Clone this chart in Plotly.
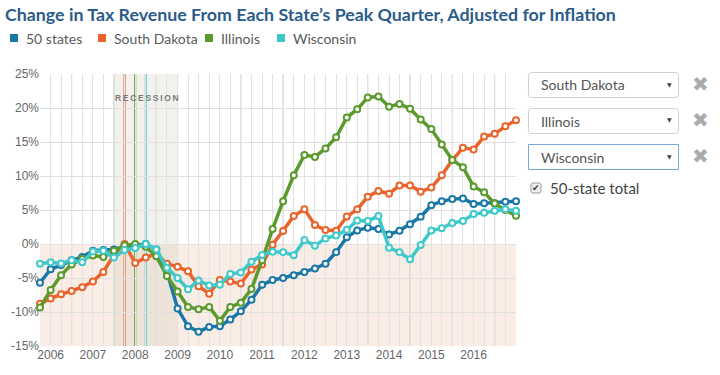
import plotly.graph_objects as go
import pandas as pd

# ---------------- data ----------------
quarters = pd.date_range("2005-10-01", periods=46, freq="QS").strftime("%Y-%m-%d").tolist()

us_50_states = [-5.7, -3.7, -3.1, -2.4, -1.9, -1.0, -0.9, -0.8, -0.4, -0.2,
                0.0, -0.8, -4.1, -9.5, -12.1, -12.9, -12.2, -12.1, -11.1, -9.9,
                -8.2, -6.0, -5.3, -5.0, -4.6, -4.1, -3.6, -2.9, -1.2, 1.0,
                2.0, 2.4, 2.2, 1.4, 1.95, 2.9, 4.0, 5.7, 6.3, 6.6,
                6.7, 5.9, 6.0, 6.0, 6.2, 6.3]
south_dakota = [-8.8, -8.0, -7.4, -6.9, -6.35, -5.5, -4.1, -1.6, 0.0, -2.8,
                -2.0, -1.4, -2.9, -3.35, -4.0, -6.2, -7.3, -5.3, -5.5, -5.8,
                -3.75, -3.0, -0.1, 1.9, 4.1, 5.1, 2.8, 2.05, 1.95, 4.05,
                5.1, 6.96, 7.8, 7.4, 8.6, 8.6, 7.7, 8.3, 10.1, 12.35,
                14.15, 13.9, 15.8, 16.2, 17.3, 18.2]
illinois = [-9.35, -6.75, -4.6, -3.0, -2.2, -1.7, -1.9, -1.0, -0.2, 0.0,
            -0.4, -1.8, -4.7, -7.0, -9.25, -9.6, -9.25, -11.3, -9.25, -8.65,
            -6.6, -2.4, 2.2, 6.3, 10.1, 13.1, 12.8, 14.05, 15.7, 18.6,
            19.8, 21.55, 21.7, 20.2, 20.6, 19.9, 18.3, 16.9, 14.65, 12.35,
            11.3, 8.45, 7.6, 5.95, 5.0, 4.15]
wisconsin = [-2.9, -2.7, -2.85, -2.4, -2.7, -1.1, -1.0, -2.0, -0.9, -0.6,
             0.0, -0.8, -3.5, -5.0, -6.65, -5.35, -6.1, -6.0, -4.4, -4.2,
             -2.6, -1.6, -1.15, -1.2, -1.65, 0.57, -0.26, 0.82, 1.25, 2.1,
             3.45, 3.4, 4.1, -0.55, -1.2, -2.25, -0.15, 2.0, 2.3, 3.1,
             3.4, 4.4, 4.6, 4.9, 5.1, 4.9]

series_names = ["50 states", "South Dakota", "Illinois", "Wisconsin"]
series_values = [us_50_states, south_dakota, illinois, wisconsin]
colors = ["#1b77a6", "#e8642c", "#5b9a2d", "#3fc9cb"]

peak_quarters = {"South Dakota": "2007-10-01", "Illinois": "2008-01-01", "Wisconsin": "2008-04-01"}
recession = ("2007-07-01", "2009-01-07")
years = list(range(2006, 2017))
y_ticks = [-15, -10, -5, 0, 5, 10, 15, 20, 25]

selected_states = ["South Dakota", "Illinois", "Wisconsin"]
checkbox_label = "50-state total"
title_text = "Change in Tax Revenue From Each State\u2019s Peak Quarter, Adjusted for Inflation"

# ---------------- layout helpers ----------------
W, H = 720, 375
ML, MR, MT, MB = 40, 204, 74, 29
PW, PH = W - ML - MR, H - MT - MB


def px2x(px):
    return (px - ML) / PW


def py2y(py):
    return (H - MB - py) / PH


def rrect_path(x0, y0, x1, y1, r):
    pts = [
        ("M", (x0 + r, y0)), ("L", (x1 - r, y0)), ("Q", (x1, y0), (x1, y0 + r)),
        ("L", (x1, y1 - r)), ("Q", (x1, y1), (x1 - r, y1)),
        ("L", (x0 + r, y1)), ("Q", (x0, y1), (x0, y1 - r)),
        ("L", (x0, y0 + r)), ("Q", (x0, y0), (x0 + r, y0)),
    ]
    out = []
    for item in pts:
        cmd = item[0]
        coords = " ".join(f"{px2x(p[0]):.5f},{py2y(p[1]):.5f}" for p in item[1:])
        out.append(f"{cmd} {coords}")
    return " ".join(out) + " Z"


fig = go.Figure()

# data lines
for name, vals, col in zip(series_names, series_values, colors):
    fig.add_trace(go.Scatter(
        x=quarters, y=vals, mode="lines+markers", name=name, showlegend=False,
        line=dict(color=col, width=3.5),
        marker=dict(symbol="circle", size=6, color="white", line=dict(color=col, width=2)),
        cliponaxis=False))

shapes = []
annotations = []
# negative region shading
shapes.append(dict(type="rect", xref="paper", yref="y", x0=0, x1=1, y0=-15, y1=0,
                   fillcolor="rgba(238,196,170,0.30)", line=dict(width=0), layer="below"))
# recession shading
shapes.append(dict(type="rect", xref="x", yref="paper", x0=recession[0], x1=recession[1], y0=0, y1=1,
                   fillcolor="rgba(205,199,185,0.25)", line=dict(width=0), layer="below"))
# darker mid-year lines
for yr in years:
    shapes.append(dict(type="line", xref="x", yref="paper", x0=f"{yr}-07-01", x1=f"{yr}-07-01",
                       y0=0, y1=1, line=dict(color="#c4c1bd", width=1), layer="between"))
# peak-quarter lines
for name, col in zip(series_names, colors):
    if name in peak_quarters:
        q = peak_quarters[name]
        shapes.append(dict(type="line", xref="x", yref="paper", x0=q, x1=q, y0=0, y1=1,
                           line=dict(color=col, width=2), layer="between"))

# manual legend (square swatches + labels)
legend_sq_x = [10, 98, 205, 277]
for name, col, sx in zip(series_names, colors, legend_sq_x):
    shapes.append(dict(type="rect", xref="paper", yref="paper",
                       x0=px2x(sx), x1=px2x(sx + 8), y0=py2y(42), y1=py2y(34),
                       fillcolor=col, line=dict(width=0), layer="above"))
    annotations.append(dict(xref="paper", yref="paper", x=px2x(sx + 14), y=py2y(38.5),
                            text=name, showarrow=False, xanchor="left", yanchor="middle",
                            font=dict(family="Lato", size=14, color="#5a5a5a")))

# right-side dropdown boxes
box_tops = [72, 108, 144]
for i, (state, top) in enumerate(zip(selected_states, box_tops)):
    focused = i == len(selected_states) - 1
    shapes.append(dict(type="path", xref="paper", yref="paper",
                       path=rrect_path(528.5, top + 0.5, 678.5, top + 25.5, 0 if focused else 3),
                       line=dict(color="#78a6da" if focused else "#cfcfcf", width=1),
                       fillcolor="white", layer="above"))
    annotations.append(dict(xref="paper", yref="paper", x=px2x(539), y=py2y(top + 13),
                            text=state, showarrow=False, xanchor="left", yanchor="middle",
                            font=dict(family="Lato", size=14, color="#555555")))
    annotations.append(dict(xref="paper", yref="paper", x=px2x(669), y=py2y(top + 12),
                            text="\u25BC", showarrow=False, xanchor="center", yanchor="middle",
                            font=dict(family="DejaVu Sans", size=6, color="#444444")))
    annotations.append(dict(xref="paper", yref="paper", x=px2x(700), y=py2y(top + 12),
                            text="\u2716", showarrow=False, xanchor="center", yanchor="middle",
                            font=dict(family="DejaVu Sans", size=20, color="#ababab")))

# checkbox
shapes.append(dict(type="path", xref="paper", yref="paper",
                   path=rrect_path(531, 183, 541, 193, 2),
                   line=dict(color="#9a9a9a", width=1), fillcolor="#eeeeee", layer="above"))
annotations.append(dict(xref="paper", yref="paper", x=px2x(536), y=py2y(188),
                        text="\u2714", showarrow=False, xanchor="center", yanchor="middle",
                        font=dict(family="DejaVu Sans", size=9, color="#333333")))
annotations.append(dict(xref="paper", yref="paper", x=px2x(548), y=py2y(188),
                        text=checkbox_label, showarrow=False, xanchor="left", yanchor="middle",
                        font=dict(family="Lato", size=15, color="#444444")))

# recession label
annotations.append(dict(xref="x", yref="paper", x="2008-04-15", y=py2y(98),
                        text="\u2009".join("RECESSION"), showarrow=False,
                        xanchor="center", yanchor="middle",
                        font=dict(family="Liberation Sans", size=8.5, color="#7a7a7a", weight="bold")))

fig.update_layout(
    template="none",
    width=W, height=H,
    margin=dict(l=ML, r=MR, t=MT, b=MB, autoexpand=False),
    paper_bgcolor="white", plot_bgcolor="white",
    title=dict(text=title_text, x=5 / W, xref="container", xanchor="left",
               y=1 - 15 / H, yref="container", yanchor="middle",
               font=dict(family="Lato", size=17.8, color="#2b5c8a", weight="bold")),
    showlegend=False,
    shapes=shapes,
    annotations=annotations,
    hovermode=False,
)

fig.update_xaxes(
    type="date", range=[quarters[0], quarters[-1]], automargin=False,
    tickvals=[f"{y}-01-01" for y in years], ticktext=[str(y) for y in years],
    showgrid=True, gridcolor="#e3e3e3", gridwidth=1, ticks="", zeroline=False, showline=False,
    tickfont=dict(family="Liberation Sans", size=12, color="#666666"),
    minor=dict(dtick="M3", tick0=quarters[0], showgrid=True, gridcolor="#e3e3e3", gridwidth=1),
)
fig.update_yaxes(
    range=[-15, 25], tickvals=y_ticks, ticktext=[f"{v}%" for v in y_ticks], automargin=False,
    showgrid=True, gridcolor="#e0e0e0", gridwidth=1, zeroline=False, showline=False, ticks="",
    tickfont=dict(family="Liberation Sans", size=12, color="#666666"),
)

fig.write_html("out.html", config={"displayModeBar": False},
               post_script="document.body.style.margin='0';document.body.style.overflow='hidden';")
